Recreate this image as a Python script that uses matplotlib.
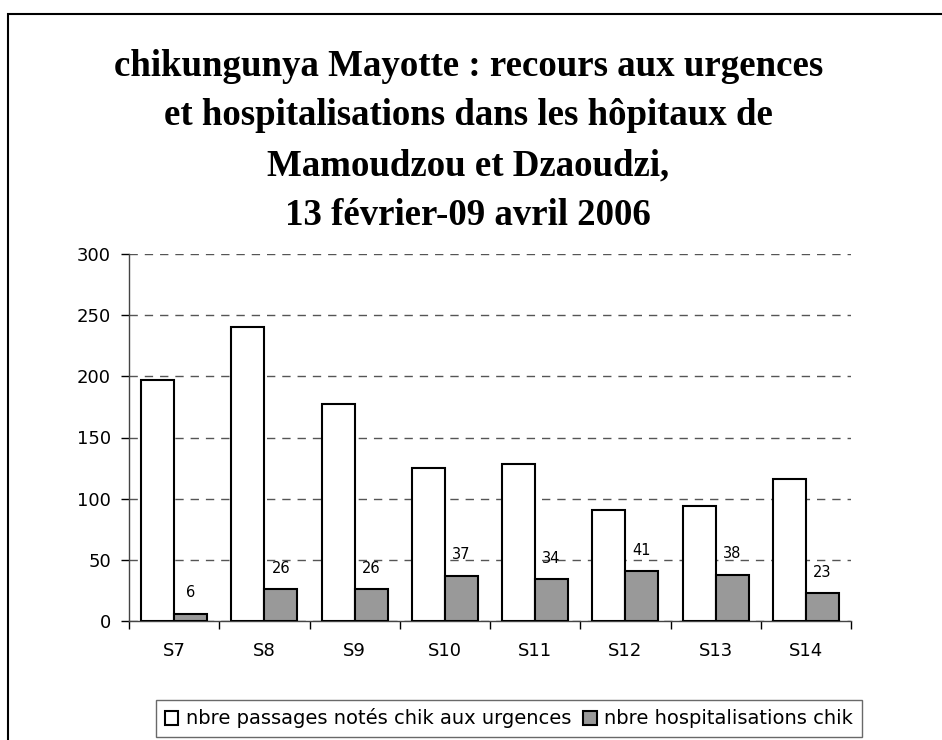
import matplotlib
matplotlib.use("Agg")
import matplotlib.pyplot as plt
import numpy as np
from matplotlib.patches import Rectangle

categories = ["S7", "S8", "S9", "S10", "S11", "S12", "S13", "S14"]
passages = [197, 240, 177, 125, 128, 91, 94, 116]
hospitalisations = [6, 26, 26, 37, 34, 41, 38, 23]
series_labels = ["nbre passages notés chik aux urgences", "nbre hospitalisations chik"]
title_lines = ["chikungunya Mayotte : recours aux urgences",
               "et hospitalisations dans les hôpitaux de",
               "Mamoudzou et Dzaoudzi,",
               "13 février-09 avril 2006"]
yticks = [0, 50, 100, 150, 200, 250, 300]

plt.rcParams['font.family'] = ['DejaVu Sans']

fig = plt.figure(figsize=(9.42, 7.4), dpi=100)
W, H = 942, 740
ax = fig.add_axes([129 / W, 1 - 621 / H, (851 - 129) / W, (621 - 254) / H])

# outer chart frame (cut off on the right and bottom)
fig.patches.append(Rectangle((8 / W, -0.1), 1.2, 1 - 14 / H + 0.1, transform=fig.transFigure,
                             fill=False, edgecolor='black', linewidth=1.5, zorder=0))

x = np.arange(len(categories))
bw = 0.365
b1 = ax.bar(x - bw / 2, passages, bw, color='white', edgecolor='black', linewidth=1.5,
            label=series_labels[0], zorder=3)
b2 = ax.bar(x + bw / 2, hospitalisations, bw, color='#999999', edgecolor='black', linewidth=1.5,
            label=series_labels[1], zorder=3)

for xi, v in zip(x, hospitalisations):
    ax.annotate(str(v), (xi + bw / 2, v), xytext=(0, 15), textcoords='offset points',
                ha='center', va='center', fontsize=10.5, zorder=4)

ax.set_xlim(-0.5, len(categories) - 0.5)
ax.set_ylim(0, 300)
ax.set_yticks(yticks)
ax.tick_params(axis='y', labelsize=13, length=6, width=1, direction='out', pad=7)
ax.set_xticks(np.arange(len(categories) + 1) - 0.5)
ax.set_xticklabels([])
ax.set_xticks(x, minor=True)
ax.set_xticklabels(categories, minor=True)
ax.tick_params(axis='x', which='major', length=6, width=1, direction='out')
ax.tick_params(axis='x', which='minor', length=0, labelsize=13, pad=15)

ax.yaxis.grid(True, linestyle=(0, (6, 5)), color='#555555', linewidth=1, zorder=0)
ax.set_axisbelow(True)
for s in ['top', 'right']:
    ax.spines[s].set_visible(False)
for s in ['left', 'bottom']:
    ax.spines[s].set_color('#444444')
    ax.spines[s].set_linewidth(1)

baselines = [76, 125, 175, 225]
for line, yb in zip(title_lines, baselines):
    fig.text(0.497, 1 - yb / H, line, ha='center', va='baseline', fontsize=26.6,
             fontweight='bold', family='Liberation Serif')

leg = fig.legend(handles=[b1, b2], loc='center',
                 bbox_to_anchor=((159 + 859) / 2 / W, 1 - 718.5 / H),
                 ncol=2, fontsize=14, frameon=True, fancybox=False,
                 edgecolor='#444444', handlelength=0.7, handleheight=0.7, handletextpad=0.4,
                 columnspacing=0.6, borderaxespad=0, borderpad=0.45)
leg.get_frame().set_linewidth(1)

fig.savefig("out.png", dpi=100, facecolor='white')
